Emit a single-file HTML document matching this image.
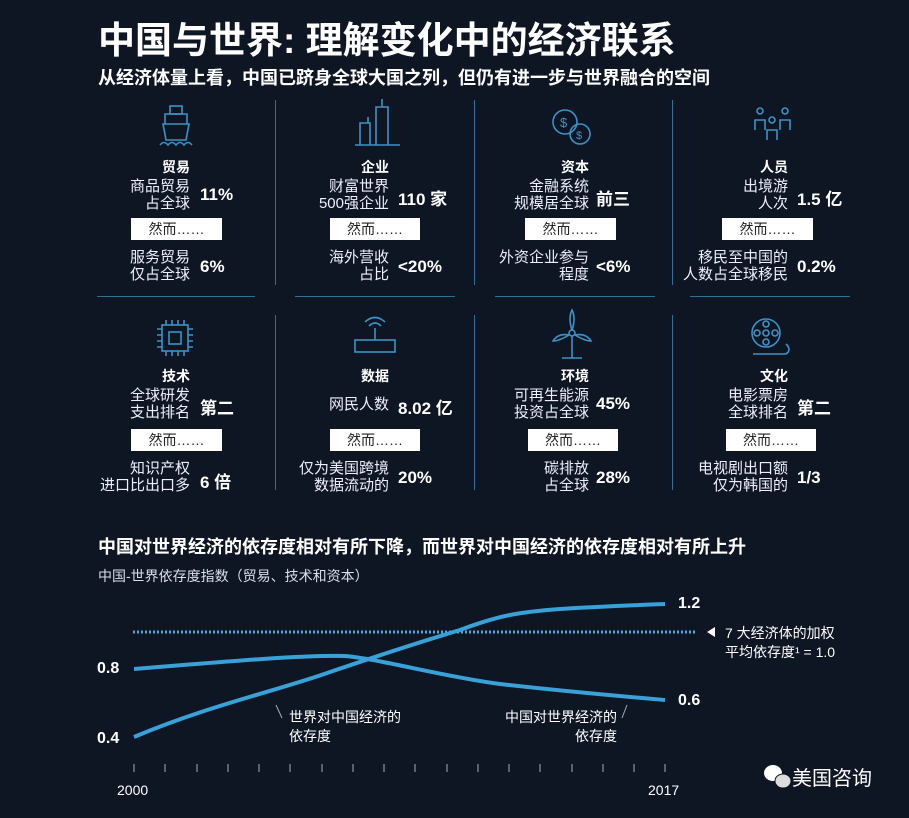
<!DOCTYPE html>
<html><head><meta charset="utf-8"><style>
body{margin:0;width:909px;height:818px;background:#0e1523;overflow:hidden;position:relative;font-family:"Liberation Sans","Noto Sans CJK SC",sans-serif;color:#fff}
.a{position:absolute;white-space:nowrap}
.t{font-size:15px;line-height:17px;text-align:right;color:#eef}
.v{font-size:17px;font-weight:bold}
.l{font-size:14px;font-weight:bold;text-align:right}
.box{position:absolute;background:#fff;color:#222;font-size:14px;height:22px;line-height:22px;text-align:center}
.vl{position:absolute;width:1px;background:#2f6f98}
.hl{position:absolute;height:1px;background:#2f6f98}
</style></head><body>
<div class="a" style="left:98px;top:10px;font-size:37px;font-weight:bold">中国与世界: 理解变化中的经济联系</div>
<div class="a" style="left:98px;top:64px;font-size:18px;font-weight:bold">从经济体量上看，中国已跻身全球大国之列，但仍有进一步与世界融合的空间</div>

<div class="vl" style="left:275px;top:100px;height:185px"></div>
<div class="vl" style="left:474px;top:100px;height:185px"></div>
<div class="vl" style="left:672px;top:100px;height:185px"></div>
<div class="vl" style="left:275px;top:315px;height:175px"></div>
<div class="vl" style="left:474px;top:315px;height:175px"></div>
<div class="vl" style="left:672px;top:315px;height:175px"></div>
<div class="hl" style="left:97px;top:296px;width:158px"></div>
<div class="hl" style="left:295px;top:296px;width:160px"></div>
<div class="hl" style="left:495px;top:296px;width:160px"></div>
<div class="hl" style="left:690px;top:296px;width:160px"></div>

<svg class="a" style="left:0;top:0" width="909" height="818" fill="none" stroke="#3b93c6" stroke-width="1.6">
<rect x="170" y="106" width="12" height="8"/><path d="M165 114h22v10h-22zM163 124h26l-3 16h-20z M160 145q4-5 8 0q4-5 8 0q4-5 8 0q4-5 8 0"/>
<path d="M355 145h45M360 145v-22h10v22M376 145v-38h12v38M382 107v-8M368 123v-6"/>
<circle cx="565" cy="122" r="12"/><circle cx="580" cy="134" r="10"/><text x="560" y="127" fill="#3b93c6" stroke="none" font-size="13">$</text><text x="576" y="139" fill="#3b93c6" stroke="none" font-size="11">$</text>
<circle cx="760" cy="111" r="3"/><circle cx="785" cy="111" r="3"/><circle cx="772" cy="120" r="3"/><path d="M755 130v-10h10v10M780 130v-10h10v10M767 140v-10h10v10"/>
<rect x="162" y="325" width="26" height="26"/><rect x="169" y="332" width="12" height="12"/><path d="M166 320v5M172 320v5M178 320v5M184 320v5M166 351v5M172 351v5M178 351v5M184 351v5M157 329h5M157 335h5M157 341h5M157 347h5M188 329h5M188 335h5M188 341h5M188 347h5"/>
<rect x="355" y="340" width="40" height="12"/><path d="M375 340v-12M369 326q6-6 12 0M365 322q10-9 20 0"/>
<circle cx="572" cy="333" r="3"/><path d="M572 330q-4-12 0-20q4 8 0 20M569 335q-10 6-16 6q5-8 16-6M575 335q10 6 16 6q-5-8-16-6M572 336v22M562 358h20"/>
<circle cx="766" cy="333" r="14"/><circle cx="766" cy="333" r="3"/><circle cx="766" cy="324" r="3"/><circle cx="766" cy="342" r="3"/><circle cx="757" cy="333" r="3"/><circle cx="775" cy="333" r="3"/><path d="M753 354h33q6-4 0-10"/>
</svg>

<!-- row1 -->
<div class="a l" style="right:719px;top:157px">贸易</div>
<div class="a t" style="right:719px;top:178px">商品贸易<br>占全球</div><div class="a v" style="left:200px;top:185px">11%</div>
<div class="box" style="left:131px;top:218px;width:91px">然而……</div>
<div class="a t" style="right:719px;top:249px">服务贸易<br>仅占全球</div><div class="a v" style="left:200px;top:257px">6%</div>

<div class="a l" style="right:520px;top:157px">企业</div>
<div class="a t" style="right:520px;top:178px">财富世界<br>500强企业</div><div class="a v" style="left:398px;top:185px">110 家</div>
<div class="box" style="left:330px;top:218px;width:90px">然而……</div>
<div class="a t" style="right:520px;top:249px">海外营收<br>占比</div><div class="a v" style="left:398px;top:257px">&lt;20%</div>

<div class="a l" style="right:320px;top:157px">资本</div>
<div class="a t" style="right:320px;top:178px">金融系统<br>规模居全球</div><div class="a v" style="left:596px;top:185px">前三</div>
<div class="box" style="left:525px;top:218px;width:91px">然而……</div>
<div class="a t" style="right:320px;top:249px">外资企业参与<br>程度</div><div class="a v" style="left:596px;top:257px">&lt;6%</div>

<div class="a l" style="right:121px;top:157px">人员</div>
<div class="a t" style="right:121px;top:178px">出境游<br>人次</div><div class="a v" style="left:797px;top:185px">1.5 亿</div>
<div class="box" style="left:722px;top:218px;width:91px">然而……</div>
<div class="a t" style="right:121px;top:249px">移民至中国的<br>人数占全球移民</div><div class="a v" style="left:797px;top:257px">0.2%</div>

<!-- row2 -->
<div class="a l" style="right:719px;top:366px">技术</div>
<div class="a t" style="right:719px;top:387px">全球研发<br>支出排名</div><div class="a v" style="left:200px;top:394px">第二</div>
<div class="box" style="left:131px;top:429px;width:91px">然而……</div>
<div class="a t" style="right:719px;top:460px">知识产权<br>进口比出口多</div><div class="a v" style="left:200px;top:468px">6 倍</div>

<div class="a l" style="right:520px;top:366px">数据</div>
<div class="a t" style="right:520px;top:396px">网民人数</div><div class="a v" style="left:398px;top:394px">8.02 亿</div>
<div class="box" style="left:330px;top:429px;width:90px">然而……</div>
<div class="a t" style="right:520px;top:460px">仅为美国跨境<br>数据流动的</div><div class="a v" style="left:398px;top:468px">20%</div>

<div class="a l" style="right:320px;top:366px">环境</div>
<div class="a t" style="right:320px;top:387px">可再生能源<br>投资占全球</div><div class="a v" style="left:596px;top:394px">45%</div>
<div class="box" style="left:528px;top:429px;width:90px">然而……</div>
<div class="a t" style="right:320px;top:460px">碳排放<br>占全球</div><div class="a v" style="left:596px;top:468px">28%</div>

<div class="a l" style="right:121px;top:366px">文化</div>
<div class="a t" style="right:121px;top:387px">电影票房<br>全球排名</div><div class="a v" style="left:797px;top:394px">第二</div>
<div class="box" style="left:726px;top:429px;width:90px">然而……</div>
<div class="a t" style="right:121px;top:460px">电视剧出口额<br>仅为韩国的</div><div class="a v" style="left:797px;top:468px">1/3</div>

<!-- chart -->
<div class="a" style="left:98px;top:533px;font-size:18px;font-weight:bold">中国对世界经济的依存度相对有所下降，而世界对中国经济的依存度相对有所上升</div>
<div class="a" style="left:98px;top:566px;font-size:14px;color:#dde">中国-世界依存度指数（贸易、技术和资本）</div>
<svg class="a" style="left:0;top:0" width="909" height="818">
<line x1="133" y1="632" x2="696" y2="632" stroke="#4aa8dc" stroke-width="3" stroke-dasharray="2 2"/>
<path d="M134 737 C210 705 280 690 330 672 C380 655 420 642 460 630 C500 615 520 612 560 609 C610 606 640 605 665 604" fill="none" stroke="#38a2d8" stroke-width="4"/>
<path d="M134 669 C220 662 300 655 345 656 C380 659 440 676 500 684 C570 692 630 697 665 700" fill="none" stroke="#38a2d8" stroke-width="4"/>
<g stroke="#aab" stroke-width="1">
<line x1="134" y1="764" x2="134" y2="772"/><line x1="165" y1="764" x2="165" y2="772"/><line x1="197" y1="764" x2="197" y2="772"/><line x1="228" y1="764" x2="228" y2="772"/><line x1="259" y1="764" x2="259" y2="772"/><line x1="290" y1="764" x2="290" y2="772"/><line x1="322" y1="764" x2="322" y2="772"/><line x1="353" y1="764" x2="353" y2="772"/><line x1="384" y1="764" x2="384" y2="772"/><line x1="415" y1="764" x2="415" y2="772"/><line x1="447" y1="764" x2="447" y2="772"/><line x1="478" y1="764" x2="478" y2="772"/><line x1="509" y1="764" x2="509" y2="772"/><line x1="540" y1="764" x2="540" y2="772"/><line x1="572" y1="764" x2="572" y2="772"/><line x1="603" y1="764" x2="603" y2="772"/><line x1="634" y1="764" x2="634" y2="772"/><line x1="665" y1="764" x2="665" y2="772"/>
<line x1="276" y1="705" x2="282" y2="718"/><line x1="627" y1="705" x2="622" y2="718"/>
</g>
<path d="M715 627 L707 632 L715 637 Z" fill="#fff"/>
<ellipse cx="773" cy="773" rx="9" ry="8" fill="#fff"/><ellipse cx="783" cy="781" rx="8" ry="7" fill="#ddd" stroke="#0e1523"/>
</svg>
<div class="a v" style="left:97px;top:660px;font-size:16px">0.8</div>
<div class="a v" style="left:97px;top:730px;font-size:16px">0.4</div>
<div class="a v" style="left:678px;top:595px;font-size:16px">1.2</div>
<div class="a v" style="left:678px;top:692px;font-size:16px">0.6</div>
<div class="a" style="left:725px;top:624px;font-size:14px;line-height:19px">7 大经济体的加权<br>平均依存度¹ = 1.0</div>
<div class="a" style="left:289px;top:708px;font-size:14px;line-height:19px">世界对中国经济的<br>依存度</div>
<div class="a" style="left:505px;top:708px;font-size:14px;line-height:19px;text-align:right">中国对世界经济的<br>依存度</div>
<div class="a" style="left:117px;top:782px;font-size:14px">2000</div>
<div class="a" style="left:648px;top:782px;font-size:14px">2017</div>
<div class="a" style="left:792px;top:762px;font-size:20px">美国咨询</div>
</body></html>
